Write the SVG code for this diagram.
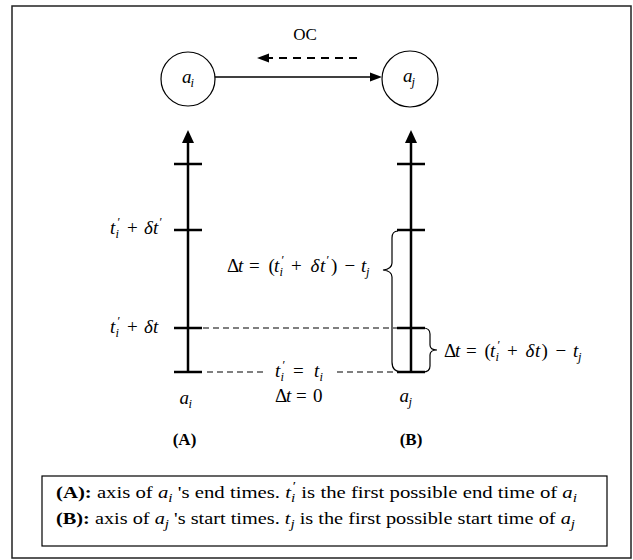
<svg xmlns="http://www.w3.org/2000/svg" width="633" height="560" viewBox="0 0 633 560">
<style>
.tx{font-family:"Liberation Serif","Times New Roman",serif;fill:#000}
.m{font-family:"Liberation Serif","Times New Roman",serif;font-size:19px;fill:#000}
.it{font-style:italic}
.s{font-size:12.5px}
.b{font-weight:bold}
.ax{stroke:#000;stroke-width:2.5;fill:none}
.ds{stroke:#000;stroke-width:1.2;stroke-dasharray:6 4;fill:none}
.br{stroke:#000;stroke-width:1.2;fill:none}
.nd{fill:#fff;stroke:#000;stroke-width:1.2}
</style>
<rect x="12" y="6" width="619" height="552" fill="#fff" stroke="#222" stroke-width="1.5"/>

<g id="node-ai">
<circle class="nd" cx="188" cy="79" r="27"/>
<text class="m" y="83" font-size="17"><tspan x="182" class="it">a</tspan><tspan x="190.5" y="87" class="s it">i</tspan></text>
</g>
<g id="node-aj">
<circle class="nd" cx="410" cy="79" r="28"/>
<text class="m" y="82" font-size="17"><tspan x="403" class="it">a</tspan><tspan x="411.5" y="86" class="s it">j</tspan></text>
</g>

<g id="connectors">
<line x1="215" y1="77" x2="371" y2="77" stroke="#000" stroke-width="1.5"/>
<polygon points="382,77 370,72.5 370,81.5" fill="#000"/>
<line x1="357" y1="58" x2="268" y2="58" stroke="#000" stroke-width="2" stroke-dasharray="8 6"/>
<polygon points="257,58 269,53.5 269,62.5" fill="#000"/>
</g>
<text class="tx" x="305" y="40" font-size="17" text-anchor="middle">OC</text>

<g id="axis-A">
<line class="ax" x1="188" y1="140" x2="188" y2="372"/>
<polygon points="188,130 182,143 194,143" fill="#000"/>
<line class="ax" x1="174" y1="164" x2="202" y2="164"/>
<line class="ax" x1="174" y1="230" x2="202" y2="230"/>
<line class="ax" x1="174" y1="328" x2="202" y2="328"/>
<line class="ax" x1="174" y1="372" x2="202" y2="372"/>
</g>
<g id="axis-B">
<line class="ax" x1="411" y1="140" x2="411" y2="372"/>
<polygon points="411,130 405,143 417,143" fill="#000"/>
<line class="ax" x1="397" y1="164" x2="425" y2="164"/>
<line class="ax" x1="397" y1="230" x2="425" y2="230"/>
<line class="ax" x1="397" y1="328" x2="425" y2="328"/>
<line class="ax" x1="397" y1="372" x2="425" y2="372"/>
</g>

<g id="guides">
<line class="ds" x1="203" y1="328" x2="397" y2="328"/>
<line class="ds" x1="207" y1="372" x2="264" y2="372"/>
<line class="ds" x1="337" y1="372" x2="397" y2="372"/>
<path class="br" d="M398,231 Q392,231 392,238 L392,263 Q392,269 383,270 Q392,271 392,277 L392,362 Q392,372 402,372"/>
<path class="br" d="M423,328 Q430,328 430,334 L430,345 Q430,350 437,350 Q430,350 430,355 L430,366 Q430,372 423,372"/>
</g>

<g id="labels">
<text class="m" y="234"><tspan x="110" class="it">t</tspan><tspan x="115.5" y="238" class="s it">i</tspan><tspan x="117.5" y="226" class="s">′</tspan><tspan x="127" y="234">+</tspan><tspan x="144" class="it">δ</tspan><tspan x="153" class="it">t</tspan><tspan x="159.5" y="226" class="s">′</tspan></text>
<text class="m" y="333"><tspan x="110" class="it">t</tspan><tspan x="115.5" y="337" class="s it">i</tspan><tspan x="117.5" y="325" class="s">′</tspan><tspan x="127" y="333">+</tspan><tspan x="144" class="it">δ</tspan><tspan x="153" class="it">t</tspan></text>
<text class="m" y="272"><tspan x="227">Δ</tspan><tspan x="238" class="it">t</tspan><tspan x="249">=</tspan><tspan x="268.5">(</tspan><tspan x="274" class="it">t</tspan><tspan x="279.5" y="276" class="s it">i</tspan><tspan x="281.5" y="264" class="s">′</tspan><tspan x="291" y="272">+</tspan><tspan x="310.5" class="it">δ</tspan><tspan x="320" class="it">t</tspan><tspan x="326.5" y="264" class="s">′</tspan><tspan x="331" y="272">)</tspan><tspan x="344.5">−</tspan><tspan x="361" class="it">t</tspan><tspan x="366" y="276" class="s it">j</tspan></text>
<text class="m" y="357"><tspan x="444">Δ</tspan><tspan x="455" class="it">t</tspan><tspan x="466">=</tspan><tspan x="484.5">(</tspan><tspan x="490" class="it">t</tspan><tspan x="495.5" y="361" class="s it">i</tspan><tspan x="497.5" y="349" class="s">′</tspan><tspan x="507" y="357">+</tspan><tspan x="525.5" class="it">δ</tspan><tspan x="535" class="it">t</tspan><tspan x="541.5">)</tspan><tspan x="555.5">−</tspan><tspan x="573" class="it">t</tspan><tspan x="578" y="361" class="s it">j</tspan></text>
<text class="m" y="377"><tspan x="275" class="it">t</tspan><tspan x="280.5" y="381" class="s it">i</tspan><tspan x="282.5" y="369" class="s">′</tspan><tspan x="293" y="377">=</tspan><tspan x="314" class="it">t</tspan><tspan x="319.5" y="381" class="s it">i</tspan></text>
<text class="m" y="402"><tspan x="275">Δ</tspan><tspan x="286" class="it">t</tspan><tspan x="296">=</tspan><tspan x="313">0</tspan></text>
<text class="m" y="404"><tspan x="179.5" class="it">a</tspan><tspan x="188.5" y="408" class="s it">i</tspan></text>
<text class="m" y="402"><tspan x="399.5" class="it">a</tspan><tspan x="408.5" y="406" class="s it">j</tspan></text>
<text class="tx b" x="184.5" y="445" font-size="17" text-anchor="middle">(A)</text>
<text class="tx b" x="411" y="445" font-size="17" text-anchor="middle">(B)</text>
</g>

<g id="legend">
<rect x="42" y="476" width="565" height="70" fill="#fff" stroke="#000" stroke-width="1.2"/>
<text class="tx" x="56" y="498" font-size="17" textLength="521" lengthAdjust="spacingAndGlyphs"><tspan class="b">(A):</tspan> axis of <tspan class="it">a</tspan><tspan class="s it" dy="4">i</tspan><tspan dy="-4"> 's end times. </tspan><tspan class="it">t</tspan><tspan class="s it" dy="4">i</tspan><tspan class="s" dx="-2" dy="-12">′</tspan><tspan dy="8"> is the first possible end time of </tspan><tspan class="it">a</tspan><tspan class="s it" dy="4">i</tspan></text>
<text class="tx" x="56" y="524" font-size="17" textLength="519" lengthAdjust="spacingAndGlyphs"><tspan class="b">(B):</tspan> axis of <tspan class="it">a</tspan><tspan class="s it" dy="4">j</tspan><tspan dy="-4"> 's start times. </tspan><tspan class="it">t</tspan><tspan class="s it" dy="4">j</tspan><tspan dy="-4"> is the first possible start time of </tspan><tspan class="it">a</tspan><tspan class="s it" dy="4">j</tspan></text>
</g>
</svg>
